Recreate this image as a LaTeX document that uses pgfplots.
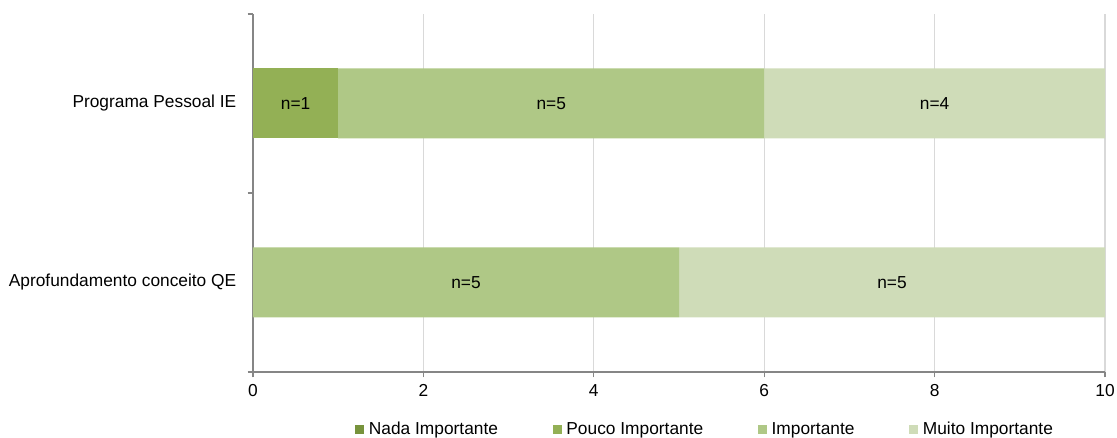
\documentclass[border=0pt]{standalone}
\usepackage{pgfplots}
\pgfplotsset{compat=1.18}
\usepackage{fontspec}
\setmainfont{Liberation Sans}
\definecolor{cNada}{HTML}{77933C}
\definecolor{cPouco}{HTML}{93B055}
\definecolor{cImp}{HTML}{AFC886}
\definecolor{cMuito}{HTML}{CFDCB8}
\definecolor{axgray}{HTML}{868686}
\definecolor{gridgray}{HTML}{D9D9D9}
\newcommand{\cfont}{\fontsize{13}{15}\selectfont}
\begin{document}
\begin{tikzpicture}
\begin{axis}[
  at={(189.75pt,49.5pt)}, anchor=south west,
  scale only axis, width=639pt, height=268.5pt,
  xbar stacked, bar width=52.5pt,
  xmin=0, xmax=10, ymin=0, ymax=2,
  xtick={0,2,4,6,8,10},
  ytick={0.5,1.5},
  yticklabels={Aprofundamento conceito QE, Programa Pessoal IE},
  minor ytick={0,1,2},
  axis lines*=left,
  axis line style={axgray, line width=1.1pt},
  xmajorgrids, major grid style={gridgray, line width=1pt},
  major x tick style={axgray, line width=1pt},
  major y tick style={draw=none},
  minor y tick style={axgray, line width=1pt},
  tick align=outside,
  major tick length=4pt, minor tick length=4pt,
  ticklabel style={font=\cfont},
  /pgf/number format/assume math mode=true,
  xticklabel style={yshift=-2pt},
  yticklabel style={xshift=-5pt},
  legend columns=4,
  legend style={draw=none, fill=none, font=\cfont, at={(0.531,-0.16)}, anchor=center,
    /tikz/every even column/.append style={column sep=39pt}, inner sep=0pt},
  legend cell align=left,
  legend image code/.code={\fill[#1] (0pt,-3.4pt) rectangle (6.8pt,3.4pt); \path (8.3pt,0pt);},
  clip=false,
]
\addplot[fill=cNada, draw=none] coordinates {(0,0.5) (0,1.5)};
\addlegendentry{Nada Importante}
\addplot[fill=cPouco, draw=none] coordinates {(0,0.5) (1,1.5)};
\addlegendentry{Pouco Importante}
\addplot[fill=cImp, draw=none] coordinates {(5,0.5) (5,1.5)};
\addlegendentry{Importante}
\addplot[fill=cMuito, draw=none] coordinates {(5,0.5) (4,1.5)};
\addlegendentry{Muito Importante}
\coordinate (l1) at (axis cs:0.5,1.5);
\coordinate (l2) at (axis cs:3.5,1.5);
\coordinate (l3) at (axis cs:8,1.5);
\coordinate (l4) at (axis cs:2.5,0.5);
\coordinate (l5) at (axis cs:7.5,0.5);
\end{axis}
\node[font=\cfont] at (l1) {n=1};
\node[font=\cfont] at (l2) {n=5};
\node[font=\cfont] at (l3) {n=4};
\node[font=\cfont] at (l4) {n=5};
\node[font=\cfont] at (l5) {n=5};
\pgfresetboundingbox
\path[use as bounding box] (0,0) rectangle (837.75pt,328.5pt);
\end{tikzpicture}
\end{document}
